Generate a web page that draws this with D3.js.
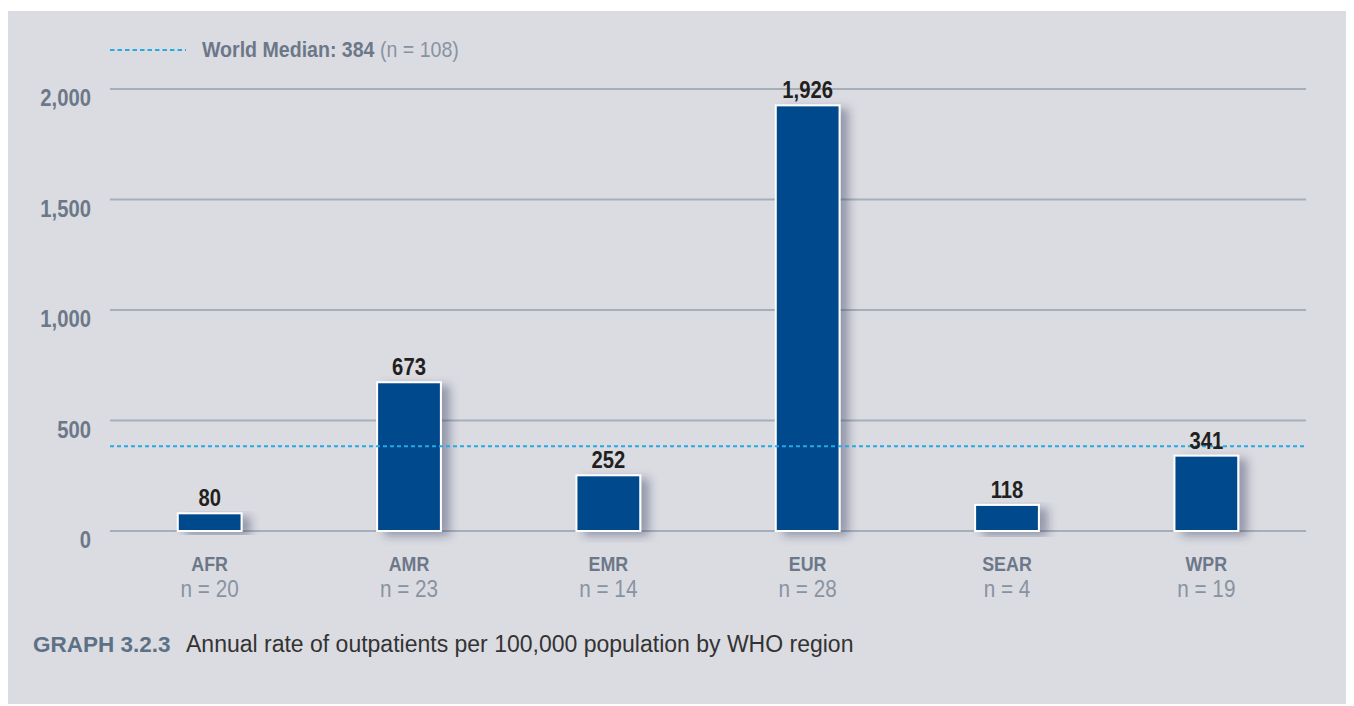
<!DOCTYPE html>
<html><head><meta charset="utf-8">
<script src="https://cdn.jsdelivr.net/npm/d3@7"></script>
<style>
body{margin:0;background:#fff;}
svg{display:block;}
text{font-family:"Liberation Sans","Arial","Helvetica",sans-serif;}
</style></head>
<body><svg id="c" width="1354" height="706"></svg>
<script>
const regions = ["AFR","AMR","EMR","EUR","SEAR","WPR"];
const counts = [20,23,14,28,4,19];
const values = [80,673,252,1926,118,341];
const yTicks = [0,500,1000,1500,2000];
const medianValue = 384;
const medianN = 108;
const title = "GRAPH 3.2.3";
const subtitle = "Annual rate of outpatients per 100,000 population by WHO region";

(function(){
const svg = d3.select("#c");
const fmt = d3.format(",");
const SX = 0.85; // condensed look
const defs = svg.append("defs");
const f = defs.append("filter").attr("id","sh").attr("x","-30%").attr("y","-10%").attr("width","180%").attr("height","130%");
f.append("feDropShadow").attr("dx",8).attr("dy",4).attr("stdDeviation",5).attr("flood-color","#28325a").attr("flood-opacity",0.4);

svg.append("rect").attr("x",8).attr("y",11).attr("width",1338).attr("height",693).attr("fill","#dbdce1");

const pl=110, pr=1306, pt=89, pb=531;
const x = d3.scaleBand().domain(regions).range([pl,pr]).paddingInner(0.68).paddingOuter(0.34);
const y = d3.scaleLinear().domain([0,2000]).range([pb,pt]);

// grid
svg.append("g").selectAll("line").data(yTicks).join("line")
  .attr("x1",pl).attr("x2",pr).attr("y1",d=>y(d)).attr("y2",d=>y(d))
  .attr("stroke","#a6afb9").attr("stroke-width",2);
svg.append("g").selectAll("text").data(yTicks).join("text")
  .attr("text-anchor","end")
  .attr("transform",d=>`translate(91,${y(d)+17}) scale(${SX+0.03},1)`)
  .attr("font-size",23).attr("font-weight","bold").attr("fill","#6c7889")
  .text(d=>fmt(d));

// bars
const data = regions.map((r,i)=>({r,n:counts[i],v:values[i]}));
svg.append("g").selectAll("rect").data(data).join("rect")
  .attr("x",d=>x(d.r)).attr("width",x.bandwidth())
  .attr("y",d=>y(d.v)).attr("height",d=>y(0)-y(d.v))
  .attr("fill","#00498c").attr("stroke","#ffffff").attr("stroke-width",2)
  .attr("filter","url(#sh)");

// median line
svg.append("line").attr("x1",pl).attr("x2",pr).attr("y1",y(medianValue)).attr("y2",y(medianValue))
  .attr("stroke","#27a9e1").attr("stroke-width",2).attr("stroke-dasharray","4,3");

// value labels
svg.append("g").selectAll("text").data(data).join("text")
  .attr("text-anchor","middle")
  .attr("transform",d=>`translate(${x(d.r)+x.bandwidth()/2},${y(d.v)-7}) scale(0.88,1)`)
  .attr("font-size",23).attr("font-weight","bold").attr("fill","#231f20")
  .text(d=>fmt(d.v));

// category labels
const cat = svg.append("g").selectAll("g").data(data).join("g")
  .attr("transform",d=>`translate(${x(d.r)+x.bandwidth()/2},0)`);
cat.append("text").attr("text-anchor","middle").attr("transform",`translate(0,571) scale(${SX},1)`)
  .attr("font-size",21).attr("font-weight","bold").attr("fill","#6c7889").text(d=>d.r);
cat.append("text").attr("text-anchor","middle").attr("transform",`translate(0,597) scale(0.9,1)`)
  .attr("font-size",23).attr("fill","#8893a2").text(d=>"n = "+d.n);

// legend
svg.append("line").attr("x1",110).attr("x2",186).attr("y1",50).attr("y2",50)
  .attr("stroke","#27a9e1").attr("stroke-width",2).attr("stroke-dasharray","4.5,3");
const lt = svg.append("text").attr("transform","translate(202,57) scale(0.87,1)")
  .attr("font-size",22.5).attr("fill","#6c7889");
lt.append("tspan").attr("font-weight","bold").text("World Median: "+medianValue);
lt.append("tspan").attr("fill","#8893a2").text(" (n = "+medianN+")");

// caption
svg.append("text").attr("x",33).attr("y",652).attr("font-size",22.5)
  .attr("fill","#5c7186").attr("font-weight","bold").text(title);
svg.append("text").attr("x",186).attr("y",652).attr("font-size",23)
  .attr("fill","#333333").text(subtitle);
})();
</script></body></html>
